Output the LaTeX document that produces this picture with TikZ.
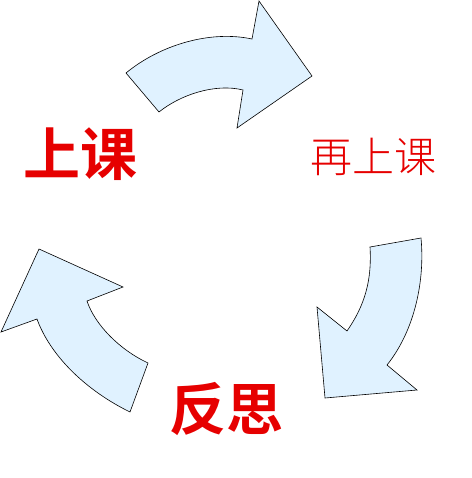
\documentclass[tikz,border=0pt]{standalone}
\usepackage{fontspec}
\newfontfamily\cjk{Noto Sans CJK SC}
\newfontfamily\cjkbold{Noto Sans CJK SC Bold}
\newfontfamily\cjklight{Noto Sans CJK SC Light}
\usepackage{tikz}
\definecolor{wordred}{RGB}{230,0,0}
\definecolor{paleblue}{RGB}{224,242,255}
\tikzstyle{bigword} = [text=wordred, inner sep=0pt, font=\cjkbold\fontsize{57}{57}\selectfont]
\tikzstyle{smallword} = [text=wordred, inner sep=0pt, font=\cjklight\fontsize{42}{42}\selectfont]
\tikzstyle{turn} = [draw=black, fill=paleblue, line width=0.6pt, line join=miter]

\begin{document}
\begin{tikzpicture}[x=1pt, y=-1pt]
\useasboundingbox (0,0) rectangle (471,478);

\node(lesson)[bigword] at (80,154){上课};
\node(again)[smallword] at (373,157){再上课};
\node(think)[bigword] at (226,409){反思};

% top arrow
\draw[turn] (126,73) .. controls (160,45) and (210,30) .. (252,39)
  -- (259,1) -- (312,76) -- (237,128) -- (243,90)
  .. controls (215,83) and (180,95) .. (159,112) -- cycle;
% right arrow
\draw[turn] (421,238) .. controls (425,280) and (415,330) .. (387,365)
  -- (417,390) -- (325,398) -- (317,307) -- (347,331)
  .. controls (365,305) and (372,280) .. (370,247) -- cycle;
% left arrow
\draw[turn] (130,412) .. controls (85,390) and (50,355) .. (37,319)
  -- (1,332) -- (39,249) -- (123,287) -- (87,301)
  .. controls (95,325) and (120,350) .. (148,363) -- cycle;

\end{tikzpicture}
\end{document}
